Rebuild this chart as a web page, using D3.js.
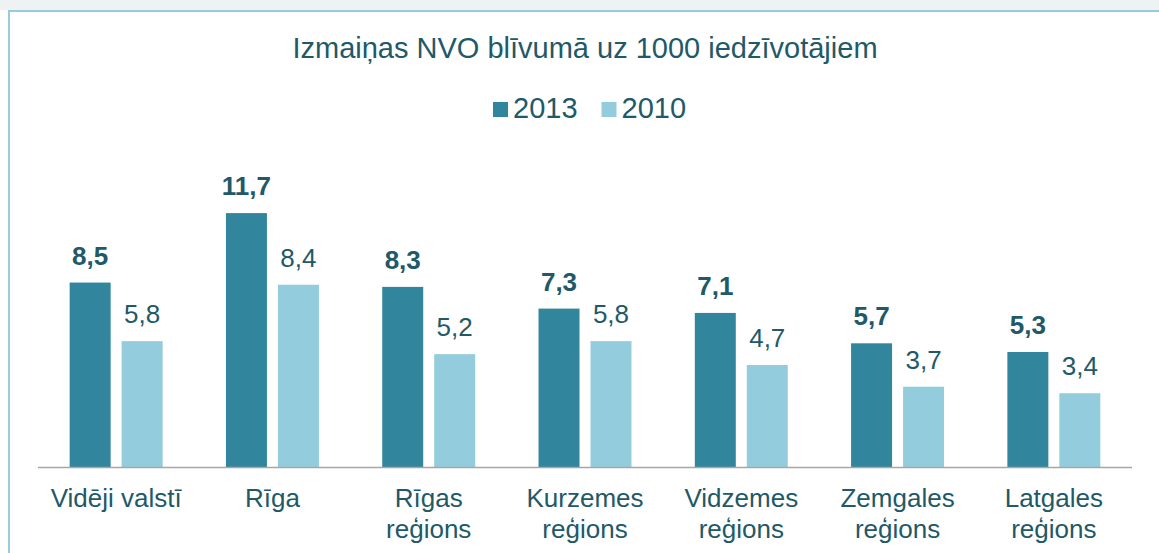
<!DOCTYPE html>
<html lang="lv">
<head>
  <meta charset="UTF-8">
  <title>Izmaiņas NVO blīvumā uz 1000 iedzīvotājiem</title>
  <script src="https://d3js.org/d3.v7.min.js"></script>
  <style>
    body { margin: 0; background: #fff; }
    text { font-family: "Liberation Sans", Arial, sans-serif; fill: #215968; }
    .title { font-size: 29px; text-anchor: middle; }
    .legend text { font-size: 29px; }
    .value { font-size: 26px; text-anchor: middle; }
    .value.bold { font-weight: bold; }
    .cat { font-size: 26px; text-anchor: middle; }
  </style>
</head>
<body>
  <svg id="chart"></svg>
  <script>
    // data
    const categories = [["Vidēji valstī"], ["Rīga"], ["Rīgas", "reģions"], ["Kurzemes", "reģions"],
                        ["Vidzemes", "reģions"], ["Zemgales", "reģions"], ["Latgales", "reģions"]];
    const series = ["2013", "2010"];
    const values2013 = [8.5, 11.7, 8.3, 7.3, 7.1, 5.7, 5.3];
    const values2010 = [5.8, 8.4, 5.2, 5.8, 4.7, 3.7, 3.4];
    const colors = ["#31859c", "#93cddd"];

    const W = 1159, H = 553;
    const svg = d3.select("#chart").attr("width", W).attr("height", H);

    // frame: grey strip on top, light blue border line
    svg.append("rect").attr("x", 0).attr("y", 0).attr("width", W).attr("height", 10).attr("fill", "#eef2f3");
    svg.append("path")
      .attr("d", `M9,${H} V11 H${W}`)
      .attr("fill", "none").attr("stroke", "#96cddd").attr("stroke-width", 2);

    const rows = categories.map((c, i) => ({ label: c, vals: [values2013[i], values2010[i]] }));

    const x0 = d3.scaleBand()
      .domain(d3.range(categories.length))
      .range([38, 1132]);

    const x1 = d3.scaleBand()
      .domain(series)
      .range([0, x0.bandwidth()])
      .paddingInner(0.2115)
      .paddingOuter(0.609);

    const y = d3.scaleLinear()
      .domain([0, 14])
      .range([467, 467 - 14 * 21.7]);

    // title
    svg.append("text")
      .attr("class", "title")
      .attr("x", 585).attr("y", 58)
      .text("Izmaiņas NVO blīvumā uz 1000 iedzīvotājiem");

    // legend
    const legend = svg.append("g").attr("class", "legend");
    const legX = [493, 601.5];
    series.forEach((s, i) => {
      legend.append("rect")
        .attr("x", legX[i]).attr("y", 102)
        .attr("width", 15).attr("height", 15)
        .attr("fill", colors[i]);
      legend.append("text")
        .attr("x", legX[i] + 20).attr("y", 118)
        .text(s);
    });

    // bars
    const groups = svg.selectAll(".grp")
      .data(rows)
      .enter().append("g")
      .attr("class", "grp")
      .attr("transform", (d, i) => `translate(${x0(i)},0)`);

    groups.selectAll("rect")
      .data(d => d.vals.map((v, j) => ({ s: series[j], v: v, j: j })))
      .enter().append("rect")
      .attr("x", d => x1(d.s))
      .attr("y", d => y(d.v))
      .attr("width", x1.bandwidth())
      .attr("height", d => y(0) - y(d.v))
      .attr("fill", d => colors[d.j]);

    groups.selectAll(".value")
      .data(d => d.vals.map((v, j) => ({ s: series[j], v: v, j: j })))
      .enter().append("text")
      .attr("class", d => d.j === 0 ? "value bold" : "value")
      .attr("x", d => x1(d.s) + x1.bandwidth() / 2)
      .attr("y", d => y(d.v) - 18)
      .text(d => d3.format(".1f")(d.v).replace(".", ","));

    // axis line
    svg.append("line")
      .attr("x1", x0.range()[0]).attr("x2", x0.range()[1])
      .attr("y1", y(0) + 0.5).attr("y2", y(0) + 0.5)
      .attr("stroke", "#a6a6a6").attr("stroke-width", 1.5);

    // category labels
    groups.append("text")
      .attr("class", "cat")
      .attr("x", x0.bandwidth() / 2)
      .attr("y", 507)
      .selectAll("tspan")
      .data(d => d.label)
      .enter().append("tspan")
      .attr("x", x0.bandwidth() / 2)
      .attr("dy", (d, i) => i === 0 ? 0 : 31)
      .text(d => d);
  </script>
</body>
</html>
